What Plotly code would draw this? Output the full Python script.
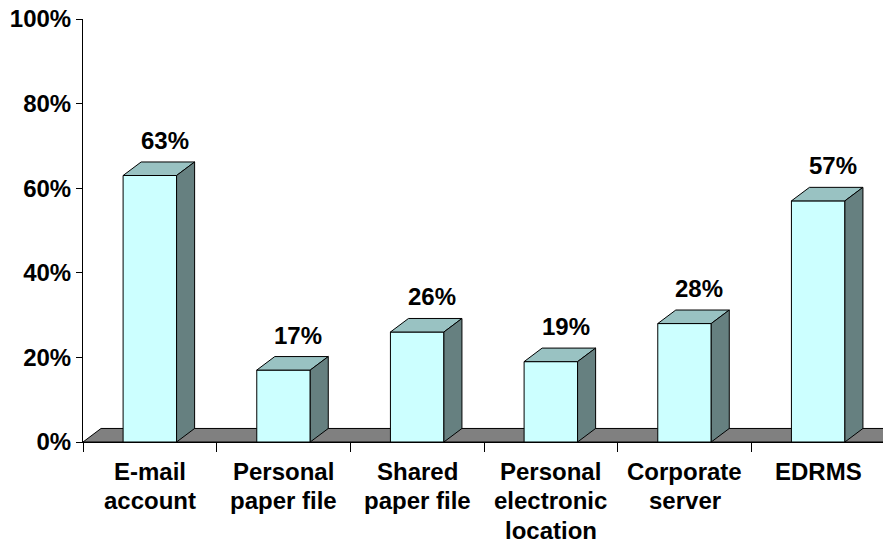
import plotly.graph_objects as go

categories = ["E-mail\naccount", "Personal\npaper file", "Shared\npaper file",
              "Personal\nelectronic\nlocation", "Corporate\nserver", "EDRMS"]
values = [63, 17, 26, 19, 28, 57]
y_ticks = [0, 20, 40, 60, 80, 100]
y_tick_labels = ["0%", "20%", "40%", "60%", "80%", "100%"]

FRONT = "#CCFFFF"
TOP = "#99C2C2"
SIDE = "#668080"
FLOOR = "#808080"
FONT = dict(family="Liberation Sans, Arial, sans-serif", size=24, color="black", weight="bold")

HALF = 0.2     # half bar width (category units)
DX = 0.135     # depth offset x (category units)
DY = 3.2       # depth offset y (value units)
LINE_GAP = 29.5

n = len(categories)
fig = go.Figure()

def poly(xs, ys, color):
    fig.add_trace(go.Scatter(x=xs, y=ys, mode="lines", fill="toself", fillcolor=color,
                             line=dict(color="black", width=1), hoverinfo="skip",
                             showlegend=False, cliponaxis=False))

# floor
poly([-0.5, n - 0.5, n - 0.5 + DX, -0.5 + DX, -0.5], [0, 0, DY, DY, 0], FLOOR)

for i, v in enumerate(values):
    l, r = i - HALF, i + HALF
    poly([l, r, r, l, l], [0, 0, v, v, 0], FRONT)
    poly([l, r, r + DX, l + DX, l], [v, v, v + DY, v + DY, v], TOP)
    poly([r, r + DX, r + DX, r, r], [0, DY, v + DY, v, 0], SIDE)
    fig.add_annotation(x=i + 0.11, y=v + DY, text=f"{v}%", showarrow=False,
                       yanchor="bottom", yshift=6, font=FONT)

# category labels, one annotation per line for tight line spacing
for i, cat in enumerate(categories):
    for k, line in enumerate(cat.split("\n")):
        fig.add_annotation(x=i, y=0, text=line, showarrow=False, yanchor="middle",
                           yshift=-(29 + k * LINE_GAP), font=FONT)

# the page body adds an 8px margin, so the figure is sized to fit the 891x539 window
fig.update_layout(
    width=883, height=531,
    margin=dict(l=75, r=6, t=11, b=97, autoexpand=False),
    paper_bgcolor="white", plot_bgcolor="white",
    font=FONT,
    xaxis=dict(range=[-0.5, n - 0.5], tickvals=list(range(n)), showticklabels=False,
               ticks="", showline=True, linecolor="black", linewidth=1,
               showgrid=False, zeroline=False, automargin=False,
               minor=dict(tickmode="linear", tick0=-0.5, dtick=1, ticks="outside",
                          ticklen=9, tickcolor="black", showgrid=False)),
    yaxis=dict(range=[0, 100], tickvals=y_ticks, ticktext=y_tick_labels,
               ticks="outside", ticklen=6, tickcolor="black", ticklabeloverflow="allow",
               showline=True, linecolor="black", linewidth=1, automargin=False,
               showgrid=False, zeroline=False, tickfont=FONT),
)

fig.write_html("out.html")
